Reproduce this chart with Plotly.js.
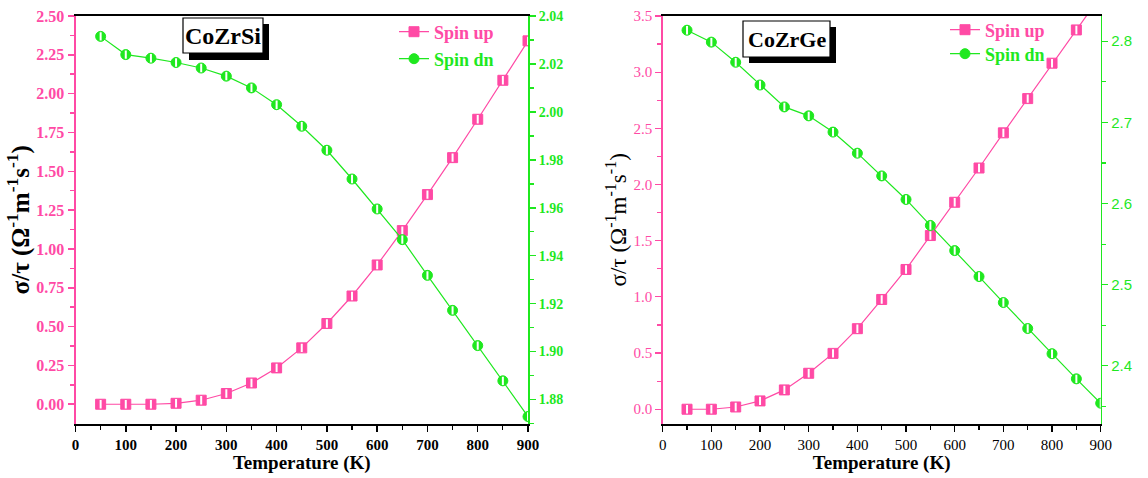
<!DOCTYPE html>
<html>
<head>
<meta charset="utf-8">
<script src="https://cdn.plot.ly/plotly-3.0.1.min.js"></script>
<style>html,body{margin:0;padding:0;background:#fff;}#chart{width:1148px;height:478px;}</style>
</head>
<body>
<div id="chart"></div>
<script>
// ---- data ----
const temps = [50,100,150,200,250,300,350,400,450,500,550,600,650,700,750,800,850,900];
const siUp = [0.000,0.000,0.000,0.006,0.026,0.069,0.137,0.234,0.363,0.520,0.697,0.897,1.118,1.350,1.588,1.835,2.086,2.340];
const siDn = [2.0315,2.0239,2.0224,2.0206,2.0183,2.0149,2.0100,2.0030,1.9940,1.9840,1.9720,1.9595,1.9467,1.9318,1.9172,1.9025,1.8878,1.8729];
const geUp = [0.000,0.000,0.020,0.074,0.172,0.320,0.497,0.717,0.977,1.244,1.546,1.842,2.147,2.460,2.765,3.080,3.376,3.680];
const geDn = [2.8135,2.7988,2.7740,2.7460,2.7190,2.7080,2.6880,2.6620,2.6340,2.6050,2.5730,2.5420,2.5100,2.4780,2.4460,2.4150,2.3840,2.3540];
const seriesNames = ['Spin up','Spin dn'];
const panelNames = ['CoZrSi','CoZrGe'];
const xTitle = 'Temperature (K)';
const yTitle = 'σ/τ (Ω<sup>-1</sup>m<sup>-1</sup>s<sup>-1</sup>)';

// ---- styles ----
const PINK = '#ff4aa5';
const GREEN = '#1fe81f';
const SERIF = '"Liberation Serif", "Times New Roman", serif';
const SANS = '"Liberation Sans", Arial, sans-serif';
const W = 1148, H = 478;
const px = v => v / W;
const py = v => 1 - v / H;

function series(x, y, xa, ya, name, color, symbol, legend) {
  return [
    {x, y, xaxis: xa, yaxis: ya, name, legend, type: 'scatter', mode: 'lines+markers',
     line: {color, width: 1.2},
     marker: {symbol, size: 10, color, line: {color, width: 1}}},
    {x, y, xaxis: xa, yaxis: ya, showlegend: false, hoverinfo: 'skip', type: 'scatter', mode: 'markers',
     marker: {symbol: 'line-ns', size: 6, line: {color: '#ffffff', width: 2}}}
  ];
}

const data = [
  ...series(temps, siUp, 'x', 'y', seriesNames[0], PINK, 'square', 'legend'),
  ...series(temps, siDn, 'x', 'y2', seriesNames[1], GREEN, 'circle', 'legend2'),
  ...series(temps, geUp, 'x2', 'y3', seriesNames[0], PINK, 'square', 'legend3'),
  ...series(temps, geDn, 'x2', 'y4', seriesNames[1], GREEN, 'circle', 'legend4')
];

const yDom = [py(423.5), py(16)];

function xAxis(domain, bold, anchor) {
  return {
    domain, anchor, range: [0, 900], dtick: 100, tick0: 0,
    showline: true, linecolor: '#000', linewidth: 2, mirror: true,
    ticks: 'outside', ticklen: 6, tickwidth: 1.5, tickcolor: '#000',
    minor: {ticks: 'outside', dtick: 50, ticklen: 4, tickcolor: '#000', tickwidth: 1.2},
    showgrid: false, zeroline: false,
    tickfont: {family: SERIF, size: 15, color: '#000', weight: bold ? 'bold' : 'normal'},
    title: {text: xTitle, font: {family: SERIF, size: 19, color: '#000', weight: 'bold'}, standoff: 2}
  };
}

function legendCfg(x, y, color, bold) {
  return {x: px(x), y: py(y), xanchor: 'left', yanchor: 'middle', bgcolor: 'rgba(0,0,0,0)',
          borderwidth: 0, itemwidth: 30,
          font: {family: SERIF, size: 18, color, weight: bold ? 'bold' : 'normal'}};
}

const layout = {
  width: W, height: H,
  margin: {l: 0, r: 0, t: 0, b: 0},
  paper_bgcolor: '#fff', plot_bgcolor: '#fff',
  showlegend: true,
  xaxis: xAxis([px(75.5), px(528)], true, 'y'),
  yaxis: {
    domain: yDom, anchor: 'x', range: [-0.124, 2.5], tickvals: [0,0.25,0.5,0.75,1,1.25,1.5,1.75,2,2.25,2.5],
    tickformat: '.2f', showline: true, linecolor: PINK, linewidth: 2,
    ticks: 'outside', ticklen: 6, tickwidth: 1.5, tickcolor: PINK,
    minor: {ticks: 'outside', dtick: 0.125, tick0: 0, ticklen: 4, tickcolor: PINK},
    showgrid: false, zeroline: false,
    tickfont: {family: SERIF, size: 16, color: PINK, weight: 'bold'},
    title: {text: yTitle, font: {family: SERIF, size: 25, color: '#000', weight: 'bold'}, standoff: 0}
  },
  yaxis2: {
    overlaying: 'y', side: 'right', anchor: 'x', range: [1.87, 2.04], dtick: 0.02, tick0: 1.88,
    tickformat: '.2f', showline: true, linecolor: GREEN, linewidth: 2,
    ticks: 'outside', ticklen: 6, tickwidth: 1.5, tickcolor: GREEN,
    minor: {ticks: 'outside', dtick: 0.01, ticklen: 4, tickcolor: GREEN},
    showgrid: false, zeroline: false,
    tickfont: {family: SERIF, size: 14, color: GREEN, weight: 'bold'}
  },
  xaxis2: xAxis([px(662.7), px(1100.7)], false, 'y3'),
  yaxis3: {
    domain: yDom, anchor: 'x2', range: [-0.127, 3.5], dtick: 0.5, tick0: 0,
    tickformat: '.1f', showline: true, linecolor: PINK, linewidth: 1.5,
    ticks: 'outside', ticklen: 6, tickwidth: 1.2, tickcolor: PINK,
    minor: {ticks: 'outside', dtick: 0.25, ticklen: 4, tickcolor: PINK},
    showgrid: false, zeroline: false,
    tickfont: {family: SERIF, size: 15, color: PINK},
    title: {text: yTitle, font: {family: SERIF, size: 23, color: '#000'}, standoff: 0}
  },
  yaxis4: {
    overlaying: 'y3', side: 'right', anchor: 'x2', range: [2.329, 2.831], dtick: 0.1, tick0: 2.4,
    tickformat: '.1f', showline: true, linecolor: GREEN, linewidth: 1.5,
    ticks: 'outside', ticklen: 6, tickwidth: 1.2, tickcolor: GREEN,
    minor: {ticks: 'outside', dtick: 0.05, ticklen: 4, tickcolor: GREEN},
    showgrid: false, zeroline: false,
    tickfont: {family: SANS, size: 15, color: GREEN}
  },
  legend: legendCfg(394, 32, PINK, true),
  legend2: legendCfg(394, 59, GREEN, true),
  legend3: legendCfg(945, 30, PINK, true),
  legend4: legendCfg(945, 54, GREEN, true),
  shapes: [
    {type: 'rect', xref: 'paper', yref: 'paper', x0: px(189), x1: px(269), y0: py(60), y1: py(24), fillcolor: '#000', line: {width: 0}},
    {type: 'rect', xref: 'paper', yref: 'paper', x0: px(183), x1: px(263), y0: py(53), y1: py(18), fillcolor: '#fff', line: {color: '#000', width: 1.2}},
    {type: 'rect', xref: 'paper', yref: 'paper', x0: px(749), x1: px(836), y0: py(63), y1: py(27), fillcolor: '#000', line: {width: 0}},
    {type: 'rect', xref: 'paper', yref: 'paper', x0: px(743), x1: px(830), y0: py(57), y1: py(21), fillcolor: '#fff', line: {color: '#000', width: 1.2}}
  ],
  annotations: [
    {xref: 'paper', yref: 'paper', x: px(223), y: py(36), text: panelNames[0], showarrow: false,
     xanchor: 'center', yanchor: 'middle', font: {family: SERIF, size: 24, color: '#000', weight: 'bold'}},
    {xref: 'paper', yref: 'paper', x: px(786.5), y: py(39), text: panelNames[1], showarrow: false,
     xanchor: 'center', yanchor: 'middle', font: {family: SERIF, size: 22, color: '#000', weight: 'bold'}}
  ]
};

Plotly.newPlot('chart', data, layout, {displayModeBar: false, staticPlot: true});
</script>
</body>
</html>
